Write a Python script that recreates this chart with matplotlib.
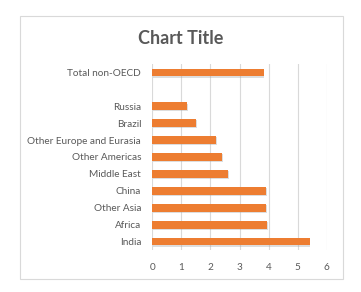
import matplotlib
matplotlib.use("Agg")
import matplotlib.pyplot as plt
from matplotlib.patches import Rectangle

categories = ["India", "Africa", "Other Asia", "China", "Middle East",
              "Other Americas", "Other Europe and Eurasia", "Brazil", "Russia",
              "", "Total non-OECD"]
values = [5.41, 3.95, 3.92, 3.92, 2.61, 2.4, 2.2, 1.51, 1.21, None, 3.83]
xticks = [0, 1, 2, 3, 4, 5, 6]

plt.rcParams['font.family'] = ['Lato', 'DejaVu Sans']
fig = plt.figure(figsize=(3.61, 2.92), dpi=100)
fig.patch.set_facecolor('white')
fig.patches.append(Rectangle((20/361, 1-279/292), 323/361, 263/292,
                             transform=fig.transFigure, fill=False,
                             edgecolor='#d9d9d9', linewidth=0.8))

ax = fig.add_axes([152.3/361, 1-250/292, 174.4/361, 186/292])
pos = list(range(len(categories)))
for p, v in zip(pos, values):
    if v is None:
        continue
    ax.barh(p - 0.07, v, height=0.46, left=0.03, color='#a0a0a0', alpha=0.35, zorder=2)
    ax.barh(p, v, height=0.46, color='#ED7D31', zorder=3)

ax.set_xlim(0, 6)
ax.set_ylim(-0.5, len(categories) - 0.5)
ax.set_xticks(xticks)
ax.set_xticklabels([str(t) for t in xticks])
ax.set_yticks(pos)
ax.set_yticklabels(categories)
ax.tick_params(axis='both', length=0, colors='#595959', labelsize=7.2)
ax.tick_params(axis='y', pad=8)
ax.tick_params(axis='x', pad=9)
ax.grid(axis='x', color='#d9d9d9', linewidth=0.8, zorder=0)
for s in ax.spines.values():
    s.set_visible(False)
ax.set_axisbelow(True)

fig.text(181/361, 1-38/292, "Chart Title", ha='center', va='center',
         fontsize=13, fontweight='bold', color='#595959')

fig.savefig("out.png", dpi=100, facecolor='white')
